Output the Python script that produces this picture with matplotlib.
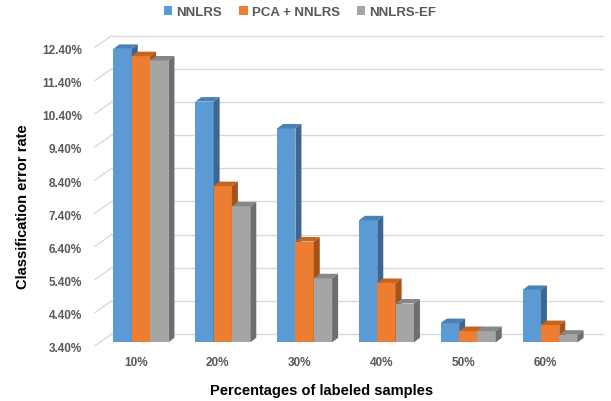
import numpy as np
import matplotlib
matplotlib.use("Agg")
import matplotlib.pyplot as plt
from matplotlib.patches import Polygon, Patch
from matplotlib.transforms import ScaledTranslation

plt.rcParams['font.family'] = ['Liberation Sans', 'DejaVu Sans']

categories = ["10%", "20%", "30%", "40%", "50%", "60%"]
series = ["NNLRS", "PCA + NNLRS", "NNLRS-EF"]
nnlrs = [12.25, 10.66, 9.85, 7.08, 3.98, 4.98]
pca_nnlrs = [12.03, 8.11, 6.44, 5.19, 3.74, 3.92]
nnlrs_ef = [11.90, 7.50, 5.33, 4.57, 3.74, 3.63]
yticks = [3.4, 4.4, 5.4, 6.4, 7.4, 8.4, 9.4, 10.4, 11.4, 12.4]

front = ["#5B9BD5", "#ED7D31", "#A5A5A5"]
top = ["#4A80B4", "#C5651F", "#878787"]
side = ["#3B6790", "#A4531A", "#6E6E6E"]
txt_gray = "#595959"

fig = plt.figure(figsize=(6.11, 4.02), dpi=100)
ax = fig.add_axes([0.1637, 0.146, 0.8036, 0.7423])
ax.set_xlim(-0.5, 5.5)
ax.set_ylim(3.4, 12.4)
for s in ax.spines.values():
    s.set_visible(False)

# pixel -> data unit conversions (for the fake 3d depth)
px_x = 6 / 491.0
px_y = 9 / 298.4

def depth_line(x0, x1, y, dx, dy, **kw):
    ax.plot([x0 + dx * px_x, x1 + dx * px_x], [y + dy * px_y, y + dy * px_y],
            clip_on=False, **kw)

# back wall gridlines + left wall diagonals
for t in yticks:
    depth_line(-0.5, 5.5, t, 11.7, 8.3, color="#D9D9D9", lw=1.0, zorder=0)
    ax.plot([-0.5 - 5 * px_x, -0.5 + 11.7 * px_x],
            [t - 3.4 * px_y, t + 8.3 * px_y],
            color="#D9D9D9", lw=1.0, clip_on=False, zorder=0)

w = 0.224
bdx, bdy = 6 * px_x, 4.5 * px_y
data = [nnlrs, pca_nnlrs, nnlrs_ef]
z = 2
for i in range(len(categories)):
    for j, vals in enumerate(data):
        v = vals[i]
        x0 = i + (j - 1.5) * w
        x1 = x0 + w
        b = 3.4
        ax.add_patch(Polygon([(x0, b), (x1, b), (x1, v), (x0, v)],
                             closed=True, fc=front[j], ec="none", zorder=z))
        ax.add_patch(Polygon([(x0, v), (x1, v), (x1 + bdx, v + bdy), (x0 + bdx, v + bdy)],
                             closed=True, fc=top[j], ec="none", zorder=z, clip_on=False))
        ax.add_patch(Polygon([(x1, b), (x1 + bdx, b + bdy), (x1 + bdx, v + bdy), (x1, v)],
                             closed=True, fc=side[j], ec="none", zorder=z, clip_on=False))
        z += 1

ax.set_yticks(yticks)
ax.set_yticklabels(["%.2f%%" % t for t in yticks])
ax.set_xticks(range(len(categories)))
ax.set_xticklabels(categories)
ax.tick_params(axis="both", length=0, labelsize=8.5, labelcolor=txt_gray)
ax.tick_params(axis="y", pad=13)
ax.tick_params(axis="x", pad=10)
for lab in ax.get_yticklabels():
    lab.set_fontweight("bold")
    lab.set_transform(lab.get_transform() + ScaledTranslation(0, -0.045, fig.dpi_scale_trans))
for lab in ax.get_xticklabels():
    lab.set_fontweight("bold")
    lab.set_transform(lab.get_transform() + ScaledTranslation(-0.05, 0, fig.dpi_scale_trans))

ax.set_xlabel("Percentages of labeled samples", fontsize=10.5, fontweight="bold")
ax.xaxis.set_label_coords(0.4515, -0.135)
ax.set_ylabel("Classification error rate", fontsize=10.5, fontweight="bold")
ax.yaxis.set_label_coords(-0.143, 0.458)

handles = [Patch(fc=front[k], ec="none") for k in range(3)]
leg = fig.legend(handles, series, loc="upper center", bbox_to_anchor=(0.491, 1.012),
                 ncol=3, frameon=False, handlelength=0.65, handleheight=0.65,
                 handletextpad=0.3, columnspacing=1.3,
                 prop={"size": 9.5, "weight": "bold"})
for t in leg.get_texts():
    t.set_color(txt_gray)

fig.savefig("out.png", dpi=100)
